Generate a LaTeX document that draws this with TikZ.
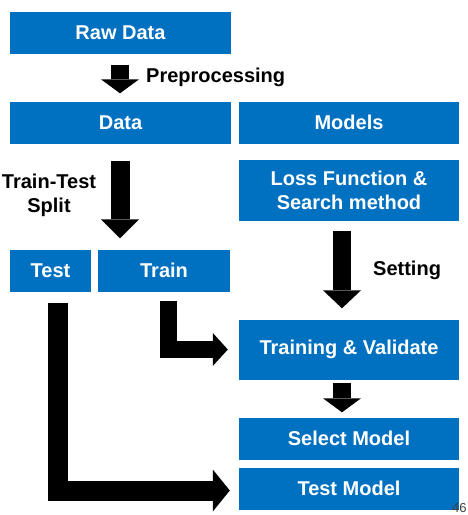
\documentclass[tikz,border=0pt]{standalone}
\usepackage{fontspec}
\setmainfont{Liberation Sans}
\usetikzlibrary{arrows.meta,calc}
\definecolor{boxblue}{HTML}{0070C0}
\begin{document}
\begin{tikzpicture}[x=1pt,y=-1pt,
  blbox/.style={fill=boxblue,text=white,inner sep=0pt,font=\bfseries\fontsize{20}{24}\selectfont,align=center,minimum height=42pt},
  lbl/.style={inner sep=0pt,font=\bfseries\fontsize{20}{24}\selectfont,align=center,text=black},
  bigarrow/.style={line width=18pt,line join=miter,-{Triangle[width=38pt,length=14pt,line width=0pt]}},
]
\useasboundingbox (0,0) rectangle (468,515);
\node[blbox,minimum width=221pt] (raw) at (120.5,32.5) {Raw Data};
\node[blbox,minimum width=221pt] (data) at (120.5,122.5) {Data};
\node[blbox,minimum width=220pt] (models) at (349,122.5) {Models};
\node[blbox,minimum width=220pt,minimum height=61pt] (loss) at (349,190.5) {Loss Function \&\\Search method};
\node[blbox,minimum width=81pt] (test) at (50.5,270.5) {Test};
\node[blbox,minimum width=132pt] (train) at (164,270.5) {Train};
\node[blbox,minimum width=220pt,minimum height=60pt] (training) at (349,349.5) {Training \& Validate};
\node[blbox,minimum width=220pt] (select) at (349,438.5) {Select Model};
\node[blbox,minimum width=220pt] (testmodel) at (349,488.5) {Test Model};

\node[lbl,anchor=west] (pre) at (146,77) {Preprocessing};
\node[lbl] (split) at (49,195.5) {Train-Test\\Split};
\node[lbl,anchor=west] (setting) at (373,270) {Setting};
\node[anchor=north west,inner sep=0pt,text=black!75,font=\fontsize{13}{15}\selectfont] (pnum) at (452,503) {46};

% Raw Data -> Data
\draw[bigarrow,shorten <=11pt,shorten >=8pt] ($(raw.south)+(-0.5,0)$) -- ($(data.north)+(-0.5,0)$);
% Data -> split
\draw[bigarrow,line width=19pt,shorten <=17pt,shorten >=11pt,-{Triangle[width=38pt,length=19pt,line width=0pt]}] ($(data.south)+(-0.5,0)$) -- ($(data.south |- train.north)+(-0.5,0)$);
% Loss -> Training
\draw[bigarrow,shorten <=10pt,shorten >=11pt,-{Triangle[width=38pt,length=18pt,line width=0pt]}] ($(loss.south)+(-7,0)$) -- ($(training.north)+(-7,0)$);
% Training -> Select
\draw[bigarrow,shorten <=3pt,shorten >=5pt] ($(training.south)+(-7,0)$) -- ($(select.north)+(-7,0)$);
% Train -> Training
\draw[line width=17pt,line join=miter,shorten <=9pt,shorten >=11pt,-{Triangle[width=33pt,length=15pt,line width=0pt]}] ($(train.south)+(4,0)$) |- (training.west);
% Test -> Test Model
\draw[line width=20pt,line join=miter,shorten <=11pt,shorten >=9pt,-{Triangle[width=42pt,length=17pt,line width=0pt]}] ($(test.south)+(7,0)$) |- ($(testmodel.west)+(0,2)$);
\end{tikzpicture}
\end{document}
